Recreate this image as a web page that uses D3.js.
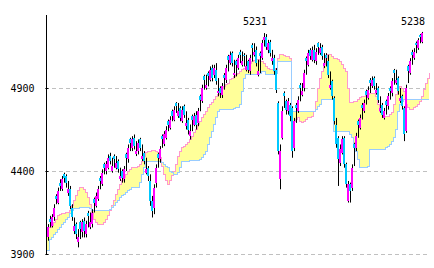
<!DOCTYPE html>
<html>
<head>
<meta charset="utf-8">
<script src="https://cdn.jsdelivr.net/npm/d3@7"></script>
<style>
  body { margin: 0; background: #fff; }
  svg text { font-family: "DejaVu Sans Mono", monospace; font-size: 10px; fill: #000; }
</style>
</head>
<body>
<div id="chart"></div>
<script>
// daily candles (oldest first)
var opens = [4000,4110,4070,4120,4250,4210,4330,4290,4380,4370,
  4270,4290,4180,4040,4080,3970,4090,4030,4100,4020,
  4150,4060,4080,4230,4190,4230,4360,4320,4440,4400,
  4420,4490,4400,4490,4420,4460,4350,4400,4350,4500,
  4470,4590,4540,4600,4500,4520,4590,4470,4510,4390,
  4420,4340,4220,4180,4330,4500,4470,4610,4560,4600,
  4700,4660,4760,4710,4810,4730,4780,4700,4790,4670,
  4710,4610,4730,4680,4740,4690,4850,4820,4970,4900,
  4990,4950,5020,4980,5010,4870,4900,4860,4980,4950,
  5090,5050,5110,4980,5060,5020,5120,5040,5100,5010,
  5060,5000,5160,5100,5130,4980,5110,5080,5190,5210,
  5130,5180,5060,5080,5010,4810,4350,4600,4870,4820,
  4760,4800,4780,4540,4800,4760,4920,4860,4900,5080,
  5040,5130,5070,5130,5060,5170,5110,5150,5030,5100,
  5060,4900,4940,4840,4680,4600,4450,4510,4600,4440,
  4220,4320,4300,4560,4540,4700,4660,4800,4760,4880,
  4840,4950,4910,4960,4870,4900,4760,4800,4720,4820,
  4790,4900,4870,5010,4930,4960,4820,4850,4780,4640,
  5030,4990,5120,5080,5170,5140,5220,5180];
var highs = [4080,4130,4140,4200,4260,4300,4350,4370,4390,4380,
  4340,4310,4200,4120,4090,4050,4100,4110,4120,4100,
  4160,4150,4170,4240,4270,4310,4370,4410,4450,4460,
  4500,4510,4480,4500,4490,4470,4420,4410,4430,4510,
  4560,4600,4610,4620,4580,4590,4600,4560,4520,4480,
  4430,4380,4250,4320,4440,4510,4550,4620,4640,4670,
  4710,4730,4770,4790,4815,4810,4790,4790,4800,4760,
  4720,4680,4740,4750,4760,4780,4860,4920,4980,4980,
  5000,5030,5040,5040,5050,4960,4910,4930,4990,5040,
  5100,5120,5120,5070,5070,5100,5130,5120,5110,5100,
  5070,5100,5170,5170,5150,5070,5120,5190,5231,5225,
  5190,5190,5130,5100,5020,4820,4560,4790,4880,4830,
  4840,4810,4790,4720,4810,4850,4930,4930,5010,5090,
  5130,5140,5150,5160,5140,5175,5170,5160,5110,5110,
  5100,5000,4950,4850,4720,4610,4560,4610,4610,4450,
  4340,4330,4440,4570,4630,4710,4740,4810,4830,4890,
  4910,4960,4970,4970,4930,4910,4850,4810,4780,4830,
  4870,4910,4960,5015,5010,4970,4900,4860,4790,4920,
  5040,5080,5130,5140,5180,5200,5225,5238];
var lows = [3980,4060,4060,4100,4200,4200,4280,4280,4330,4300,
  4250,4170,4100,4020,3990,3940,3990,4000,4000,4000,
  4060,4050,4060,4150,4180,4220,4290,4310,4380,4380,
  4410,4440,4390,4420,4410,4390,4340,4330,4330,4400,
  4450,4520,4520,4530,4490,4500,4520,4460,4440,4380,
  4340,4190,4120,4140,4300,4420,4450,4540,4550,4590,
  4640,4650,4700,4700,4750,4720,4700,4690,4720,4650,
  4620,4590,4640,4670,4650,4670,4760,4810,4890,4890,
  4910,4940,4940,4960,4920,4850,4840,4840,4890,4930,
  5000,5040,5030,4960,4970,5010,5050,5030,5030,5000,
  4990,4980,5060,5090,5030,4970,4990,5070,5150,5130,
  5110,5090,5040,4980,4870,4500,4290,4590,4780,4740,
  4740,4700,4480,4520,4690,4750,4820,4850,4880,4980,
  5030,5070,5060,5050,5040,5100,5100,5070,5020,5030,
  4960,4890,4830,4680,4540,4310,4430,4500,4420,4300,
  4210,4210,4280,4430,4520,4600,4650,4710,4750,4800,
  4830,4870,4900,4890,4860,4810,4750,4720,4710,4740,
  4770,4830,4850,4920,4920,4860,4810,4770,4580,4630,
  4930,4980,5040,5070,5110,5130,5170,5170];
var closes = [4060,4090,4120,4180,4230,4280,4310,4350,4360,4330,
  4290,4190,4120,4070,4020,4000,4050,4090,4040,4080,
  4130,4090,4150,4210,4250,4290,4340,4390,4420,4440,
  4480,4460,4430,4470,4450,4410,4370,4360,4410,4480,
  4540,4570,4590,4550,4520,4570,4540,4490,4460,4410,
  4370,4220,4160,4300,4420,4480,4530,4590,4620,4650,
  4680,4710,4730,4770,4790,4760,4720,4770,4740,4690,
  4650,4640,4710,4730,4680,4760,4830,4900,4950,4920,
  4970,5010,4960,5020,4940,4880,4870,4910,4960,5020,
  5070,5100,5050,4990,5040,5080,5100,5060,5090,5030,
  5010,5080,5140,5120,5050,5000,5090,5170,5210,5150,
  5170,5110,5080,5000,4890,4520,4520,4760,4850,4770,
  4820,4730,4520,4700,4780,4830,4900,4880,4990,5060,
  5110,5090,5130,5070,5120,5150,5140,5090,5050,5080,
  4980,4920,4850,4700,4560,4470,4530,4590,4440,4320,
  4320,4280,4420,4540,4610,4680,4720,4780,4810,4860,
  4890,4930,4950,4910,4890,4830,4780,4740,4760,4800,
  4850,4880,4940,4990,4950,4880,4840,4790,4620,4900,
  5000,5060,5100,5120,5160,5190,5210,5230];

// ichimoku cloud: leading spans A and B (run 4 bars past the last candle)
var spanA = [4060,4060,4070,4090,4110,4130,4140,4145,4145,4150,
  4150,4160,4190,4220,4250,4280,4300,4300,4290,4270,
  4240,4200,4150,4110,4090,4080,4075,4080,4090,4110,
  4130,4160,4190,4220,4260,4290,4320,4340,4360,4380,
  4400,4410,4420,4420,4420,4430,4440,4460,4490,4510,
  4520,4520,4525,4525,4520,4510,4480,4430,4380,4340,
  4320,4340,4370,4400,4440,4490,4520,4540,4550,4560,
  4570,4590,4610,4630,4650,4680,4700,4720,4740,4760,
  4780,4800,4810,4830,4850,4860,4880,4900,4910,4920,
  4930,4950,4960,4970,4980,4990,5000,5010,5020,5030,
  5040,5050,5060,5065,5070,5070,5060,5060,5050,5030,
  5020,5010,5010,5000,5020,5080,5100,5100,5095,5090,
  5090,5080,4700,4700,4710,4720,4700,4690,4700,4710,
  4720,4720,4730,4760,4820,4900,4960,5000,5040,5080,
  5100,5100,5090,5080,5080,5070,5060,5040,5020,5000,
  4900,4810,4810,4820,4820,4830,4840,4850,4850,4860,
  4860,4870,4870,4870,4850,4800,4760,4740,4730,4730,
  4730,4740,4750,4800,4860,4900,4910,4900,4880,4800,
  4780,4770,4770,4780,4790,4800,4820,4850,4890,4930,
  4960,4990];
var spanB = [3920,3990,4000,4015,4030,4045,4060,4075,4090,4105,
  4120,4145,4165,4175,4175,4175,4180,4180,4180,4180,
  4180,4175,4165,4165,4165,4165,4165,4165,4165,4165,
  4165,4170,4180,4195,4210,4225,4240,4250,4260,4270,
  4280,4290,4300,4300,4300,4300,4330,4380,4420,4460,
  4460,4460,4460,4460,4460,4460,4460,4450,4440,4430,
  4420,4400,4390,4380,4380,4390,4420,4460,4460,4460,
  4460,4465,4465,4465,4465,4465,4470,4480,4500,4520,
  4560,4600,4640,4680,4720,4760,4770,4770,4770,4770,
  4770,4770,4770,4775,4780,4780,4800,4880,4960,4980,
  4980,4980,4980,4980,4980,4980,4990,5000,5000,4980,
  4980,4980,4980,4980,4990,5060,5060,5060,5060,5060,
  5060,5060,4760,4760,4760,4760,4760,4760,4760,4760,
  4760,4760,4760,4760,4770,4790,4800,4830,4830,4830,
  4830,4830,4830,4640,4640,4640,4640,4640,4640,4640,
  4640,4620,4600,4560,4520,4470,4420,4420,4420,4420,
  4430,4530,4530,4530,4530,4530,4530,4530,4530,4540,
  4550,4560,4580,4600,4650,4760,4800,4820,4830,4830,
  4830,4830,4830,4830,4830,4830,4830,4830,4830,4830,
  4830,4830];

var yTicks = [3900, 4400, 4900];
var peakIdx = [108, 187];   // candles whose high is labelled

var W = 434, H = 268;
var svg = d3.select("#chart").append("svg")
    .attr("width", W).attr("height", H);

var x = d3.scaleLinear().domain([0, spanA.length - 1]).range([47, 429]);
var y = d3.scaleLinear().domain([3900, 5346]).range([254, 14]);

// dashed grid
svg.append("g")
    .attr("transform", "translate(45,0)")
    .call(d3.axisLeft(y).tickValues(yTicks).tickSize(-385).tickFormat(""))
    .call(g => g.select(".domain").remove())
    .selectAll(".tick line")
      .attr("stroke", "#c0c0c0")
      .attr("stroke-dasharray", "4,3")
      .attr("shape-rendering", "crispEdges");

// cloud
var cloud = d3.range(spanA.length);
svg.append("path")
    .datum(cloud)
    .attr("fill", "#ffff99")
    .attr("d", d3.area()
      .x(i => x(i))
      .y0(i => y(spanA[i]))
      .y1(i => y(spanB[i]))
      .curve(d3.curveStepAfter));
svg.append("path")
    .datum(cloud)
    .attr("fill", "none").attr("stroke", "#ff99cc").attr("stroke-width", 1)
    .attr("shape-rendering", "crispEdges")
    .attr("d", d3.line().x(i => x(i)).y(i => y(spanA[i])).curve(d3.curveStepAfter));
svg.append("path")
    .datum(cloud)
    .attr("fill", "none").attr("stroke", "#99ccff").attr("stroke-width", 1)
    .attr("shape-rendering", "crispEdges")
    .attr("d", d3.line().x(i => x(i)).y(i => y(spanB[i])).curve(d3.curveStepAfter));

// candles
var bars = svg.append("g").selectAll("g")
    .data(d3.range(closes.length))
    .enter().append("g");
bars.append("line")
    .attr("x1", i => x(i) + 1.5).attr("x2", i => x(i) + 1.5)
    .attr("y1", i => y(highs[i])).attr("y2", i => y(lows[i]))
    .attr("stroke", "#000").attr("stroke-width", 1);
bars.append("rect")
    .attr("x", i => x(i))
    .attr("width", 2)
    .attr("y", i => y(Math.max(opens[i], closes[i])))
    .attr("height", i => Math.max(1, Math.abs(y(opens[i]) - y(closes[i]))))
    .attr("fill", i => closes[i] >= opens[i] ? "#ff00ff" : "#00c8ff")
    .attr("shape-rendering", "crispEdges");

// axis
svg.append("g")
    .attr("transform", "translate(45.5,0)")
    .call(d3.axisLeft(y).tickValues(yTicks).tickSize(-3).tickSizeOuter(0)
      .tickPadding(11).tickFormat(d3.format("d")))
    .call(g => g.select(".domain").attr("shape-rendering", "crispEdges"))
    .call(g => g.selectAll("text").style("font-family", "DejaVu Sans Mono").style("font-size", "10px"));

// peak labels
svg.selectAll(".peak")
    .data(peakIdx)
    .enter().append("text")
    .attr("class", "peak")
    .attr("text-anchor", "end")
    .attr("x", i => x(i) + 4)
    .attr("y", 25)
    .text(i => highs[i]);
</script>
</body>
</html>
